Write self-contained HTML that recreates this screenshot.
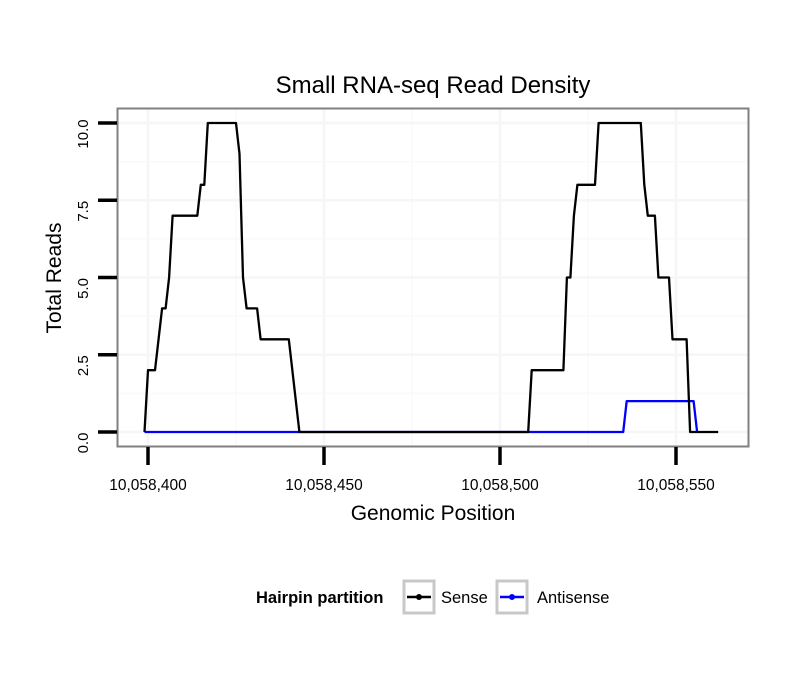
<!DOCTYPE html>
<html><head><meta charset="utf-8"><style>
body{margin:0;background:#fff;font-family:"Liberation Sans",sans-serif;}
</style></head><body>
<svg id="chart" width="810" height="690" xmlns="http://www.w3.org/2000/svg" font-family="Liberation Sans, sans-serif">
<rect width="810" height="690" fill="#fff"/>
<text x="433" y="93" font-size="24" text-anchor="middle">Small RNA-seq Read Density</text>
<g id="grid"></g>
<g id="series"></g>
<rect x="117.5" y="108.5" width="631" height="338" fill="none" stroke="#808080" stroke-width="2"/>
<g id="axes"></g>
<text x="433" y="520" font-size="21" text-anchor="middle">Genomic Position</text>
<text transform="translate(61,278) rotate(-90)" font-size="21" text-anchor="middle">Total Reads</text>
<g>
<text x="256" y="603" font-size="16.5" font-weight="bold">Hairpin partition</text>
<g>
<rect x="404" y="581" width="30" height="32" fill="#fff" stroke="#c8c8c8" stroke-width="3"/>
<line x1="407" y1="597" x2="431" y2="597" stroke="#000" stroke-width="2.5"/>
<circle cx="419" cy="597" r="3" fill="#000"/>
<text x="441" y="603" font-size="16.5">Sense</text>
</g>
<g>
<rect x="497" y="581" width="30" height="32" fill="#fff" stroke="#c8c8c8" stroke-width="3"/>
<line x1="500" y1="597" x2="524" y2="597" stroke="#0000ff" stroke-width="2.5"/>
<circle cx="512" cy="597" r="3" fill="#0000ff"/>
<text x="537" y="603" font-size="16.5">Antisense</text>
</g>
</g>
</svg>
<script>
const sensePos = [10058399,10058400,10058402,10058404,10058405,10058406,10058407,10058414,10058415,10058416,10058417,10058425,10058426,10058427,10058428,10058431,10058432,10058440,10058443,10058508,10058509,10058518,10058519,10058520,10058521,10058522,10058527,10058528,10058540,10058541,10058542,10058544,10058545,10058548,10058549,10058553,10058554,10058562];
const senseVal = [0,2,2,4,4,5,7,7,8,8,10,10,9,5,4,4,3,3,0,0,2,2,5,5,7,8,8,10,10,8,7,7,5,5,3,3,0,0];
const antiPos = [10058399,10058535,10058536,10058555,10058556];
const antiVal = [0,0,1,1,0];
const xTicks = [10058400,10058450,10058500,10058550];
const xTickLabels = ["10,058,400","10,058,450","10,058,500","10,058,550"];
const yTicks = [0,2.5,5,7.5,10];
const yTickLabels = ["0.0","2.5","5.0","7.5","10.0"];

const NS="http://www.w3.org/2000/svg";
const X = p => 148 + (p - 10058400) * 3.52;
const Y = v => 432 - v * 30.9;
function mk(tag, attrs, parent){const e=document.createElementNS(NS,tag);for(const k in attrs)e.setAttribute(k,attrs[k]);parent.appendChild(e);return e;}
const grid=document.getElementById('grid'), axes=document.getElementById('axes'), series=document.getElementById('series');
for(let i=0;i<yTicks.length-1;i++){
  const l=mk('line',{x1:118,x2:748,y1:Y((yTicks[i]+yTicks[i+1])/2),y2:Y((yTicks[i]+yTicks[i+1])/2),stroke:'#fafafa','stroke-width':1.5},grid);
  
  
}
for(let i=0;i<xTicks.length-1;i++){
  const m=(xTicks[i]+xTicks[i+1])/2;
  const l=mk('line',{x1:X(m),x2:X(m),y1:109,y2:446,stroke:'#fafafa','stroke-width':1.5},grid);
  
  
}
yTicks.forEach((t,i)=>{
  const g=mk('line',{x1:118,x2:748,y1:Y(t),y2:Y(t),stroke:'#f6f6f6','stroke-width':2.5},grid);
  
  
  const tk=mk('line',{x1:98,x2:117,y1:Y(t),y2:Y(t),stroke:'#000','stroke-width':3.5},axes);
  
  
  const tx=mk('text',{transform:`translate(88,${Y(t)+11}) rotate(-90)`,'font-size':15,'text-anchor':'middle'},axes);
  tx.textContent=yTickLabels[i];
  
  
});
xTicks.forEach((t,i)=>{
  const g=mk('line',{x1:X(t),x2:X(t),y1:109,y2:446,stroke:'#f6f6f6','stroke-width':2.5},grid);
  
  
  const tk=mk('line',{x1:X(t),x2:X(t),y1:447,y2:465,stroke:'#000','stroke-width':3.5},axes);
  
  
  const tx=mk('text',{x:X(t),y:490,'font-size':15.5,'text-anchor':'middle'},axes);
  tx.textContent=xTickLabels[i];
  
  
});
function line(pos,val,color,name){
  const pts=pos.map((p,i)=>X(p).toFixed(1)+','+Y(val[i]).toFixed(1)).join(' ');
  const pl=mk('polyline',{points:pts,fill:'none',stroke:color,'stroke-width':2.3,'stroke-linejoin':'round'},series);
  
  
}
line(antiPos,antiVal,'#0000ff','antisense-line');
line(sensePos,senseVal,'#000','sense-line');
</script>
</body></html>
